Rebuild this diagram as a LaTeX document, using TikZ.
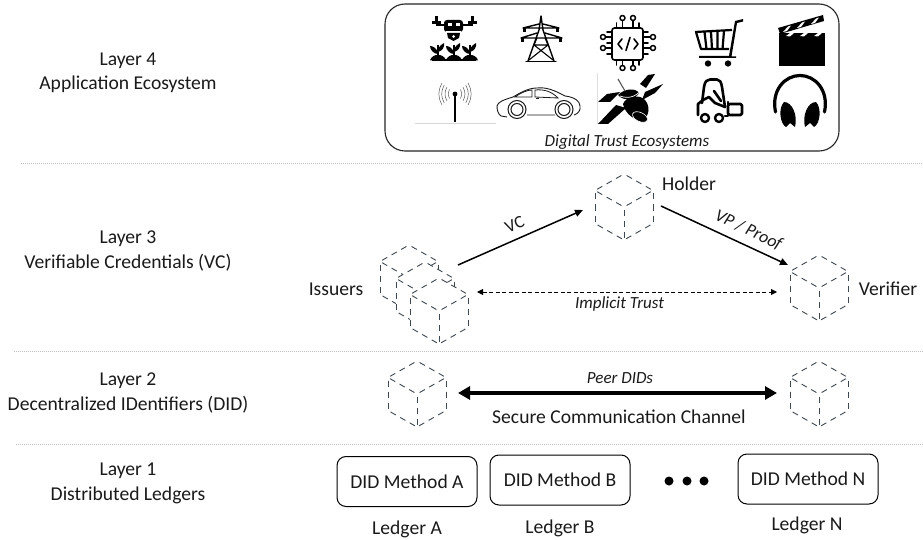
\documentclass[tikz,border=0pt]{standalone}
\usepackage{fontspec}
\setmainfont{Carlito}
\usetikzlibrary{arrows.meta,calc}
\definecolor{ink}{HTML}{1A1A1A}
\definecolor{cubeink}{HTML}{3F4750}
\definecolor{sepgray}{HTML}{BDBDBD}
\tikzset{
  x=1pt,y=-1pt,
  lbl/.style={font=\fontsize{19.6}{24.5}\selectfont,text=ink,inner sep=0pt,align=center},
  small/.style={font=\fontsize{17}{17}\selectfont\itshape,text=ink,inner sep=0pt},
  sep/.style={draw=sepgray,line width=0.8pt,dash pattern=on 1pt off 1pt},
  cubenode/.style={minimum width=58pt,minimum height=66pt,inner sep=0pt,draw=none},
  cubeedge/.style={draw=cubeink,line width=0.9pt,dash pattern=on 6pt off 5pt,dash phase=8pt},
  ledger/.style={draw=black,line width=1pt,rounded corners=9pt,minimum width=140pt,minimum height=50pt,inner sep=0pt,lbl},
  arrowthin/.style={draw=black,line width=1.5pt,-{Triangle[length=8pt,width=7pt]}},
  arrowdash/.style={draw=black,line width=0.9pt,dash pattern=on 4pt off 2.5pt,{Triangle[length=6pt,width=6pt]}-{Triangle[length=6pt,width=6pt]}},
  arrowthick/.style={draw=black,line width=3.5pt,{Triangle[length=12pt,width=13pt]}-{Triangle[length=12pt,width=13pt]}},
  ic/.style={fill=black,draw=none},
  ol/.style={draw=black,line width=1.1pt,fill=none,line join=round,line cap=round},
}
\newcommand{\cubeat}[3]{%
  \node[cubenode] (#1) at (#2,#3) {};
  \fill[white] ($(#1)+(0,-33)$)--($(#1)+(29,-16.5)$)--($(#1)+(29,16.5)$)--($(#1)+(0,33)$)--($(#1)+(-29,16.5)$)--($(#1)+(-29,-16.5)$)--cycle;
  \foreach \ax/\ay/\bx/\by in {0/-33/29/-16.5, 0/-33/-29/-16.5, 29/-16.5/29/16.5, -29/-16.5/-29/16.5, 29/16.5/0/33, -29/16.5/0/33, 0/0/29/-16.5, 0/0/-29/-16.5, 0/0/0/33}{
    \path[cubeedge,draw] ($(#1)+(\ax,\ay)$) -- ($(#1)+(\bx,\by)$);
  }
}
\begin{document}
\begin{tikzpicture}
\useasboundingbox (0,0) rectangle (923,540);
\fill[white] (0,0) rectangle (923,540);

% separators
\coordinate (s1a) at (21,163); \coordinate (s1b) at (923,163);
\coordinate (s2a) at (14,351); \coordinate (s2b) at (923,351);
\coordinate (s3a) at (16,444); \coordinate (s3b) at (923,444);
\draw[sep] (s1a)--(s1b); \draw[sep] (s2a)--(s2b); \draw[sep] (s3a)--(s3b);

% layer labels
\node[lbl] (l4) at (128,73) {Layer 4\\Application Ecosystem};
\node[lbl] (l3) at (128,251) {Layer 3\\Verifiable Credentials (VC)};
\node[lbl] (l2) at (128,393) {Layer 2\\Decentralized IDentifiers (DID)};
\node[lbl] (l1) at (128,483.5) {Layer 1\\Distributed Ledgers};

% ecosystem box
\node[draw=black!85,line width=1.1pt,rounded corners=20pt,minimum width=454pt,minimum height=147pt,inner sep=0pt] (eco) at (612,77.5) {};
\node[small] (ecot) at (627,142.5) {Digital Trust Ecosystems};

% --- drone
\begin{scope}
\fill[ic] (432,21.5) rectangle (441,24.5);
\fill[ic] (468,21.5) rectangle (477,24.5);
\fill[ic] (435,16) rectangle (438,23);
\fill[ic] (471,16) rectangle (474,23);
\fill[ic] (436,24) rectangle (473,26);
\fill[ic,rounded corners=3pt] (444,20) rectangle (463,32);
\fill[white] (448,23) rectangle (452,26); \fill[white] (455.5,23) rectangle (459.5,26);
\fill[white] (446,31) rectangle (461,32.5);
\fill[ic] (447,33) -- (460,33) -- (459,38) -- (453.5,41) -- (448,38) -- cycle;
\fill[white] (453.5,36.5) circle (1.5);
\foreach \px in {438,454,470}{
  \fill[ic] (\px-1,45) rectangle (\px+1,56);
  \fill[ic] (\px,52) .. controls (\px-2,48) and (\px-5,46) .. (\px-8,46) .. controls (\px-8,50) and (\px-4,54) .. (\px,54) -- cycle;
  \fill[ic] (\px,50) .. controls (\px+1,46) and (\px+4,44) .. (\px+6,43) .. controls (\px+7,47) and (\px+4,51) .. (\px,52) -- cycle;
  \fill[ic] (\px-8,60.5) .. controls (\px-6,53) and (\px+6,53) .. (\px+8,60.5) -- cycle;
}
\fill[ic] (432,59.5) rectangle (476,61.5);
\end{scope}

% --- pylon
\begin{scope}[ol]
\draw[ol,line width=1.4pt] (528,61) -- (539,30) -- (541,16) -- (543,30) -- (554,61);
\draw[ol,line width=1.4pt] (526,61.5) -- (556,61.5);
\draw[ol,line width=1.4pt] (523,28) -- (559,28) (521,38) -- (562,38) (539,24) -- (523,28) (543,24) -- (559,28) (537,33) -- (521,38) (545,33) -- (562,38);
\draw[ol,line width=1.1pt] (534,45) -- (548,45) (534,45) -- (553,60) (548,45) -- (529,60) (537,38) -- (534,45) (545,38) -- (548,45);
\fill[ic] (521,37) rectangle (524,42); \fill[ic] (559,37) rectangle (562,42);
\fill[ic] (523,28) rectangle (526,32); \fill[ic] (556,28) rectangle (559,32);
\end{scope}

% --- chip
\draw[ol,line width=1.6pt,rounded corners=2.5pt] (612,28) rectangle (643,60);
\draw[ol,line width=1.6pt] (622.5,28) -- (622.5,21) (633,28) -- (633,21) (622.5,60) -- (622.5,65) (633,60) -- (633,65)
  (612,37) -- (606,37) (612,48) -- (606,48) (643,37) -- (650,37) (643,48) -- (650,48)
  (616.5,28) -- (616.5,23) (639,28) -- (639,23) (616.5,60) -- (616.5,65) (639,60) -- (639,65)
  (612,32) -- (607,32) (612,54) -- (607,54) (643,32) -- (648,32) (643,54) -- (648,54) (612,43) -- (607,43) (643,43) -- (648,43);
\foreach \cx/\cy in {622.5/18,633/18,622.5/68,633/68,603/37,603/48,653/37,653/48}{
  \draw[ol,line width=1.5pt] (\cx,\cy) circle (2.5);
}
\draw[ol,line width=1.6pt] (622,39) -- (618,44) -- (622,49) (634,39) -- (638,44) -- (634,49) (630,37.5) -- (626,50.5);

% --- cart
\fill[ic] (743,19) -- (743,21.5) -- (737,23) -- (731.5,56.5) -- (736,56.5) -- (736,58) -- (699,58) -- (699,56) -- (729,56) -- (735,21) -- cycle;
\draw[ol,line width=2.2pt,line cap=butt] (695,32) -- (732,30) (696,32) -- (701,49) -- (729,49) (704.5,32) -- (706.5,49) (711,32) -- (712,49) (717.5,31) -- (717.5,49) (724,31) -- (722.5,49);
\fill[ic] (708,63.5) circle (3.2) (728,63.5) circle (3.2);

% --- clapper
\fill[ic] (779,33) rectangle (825,66);
\fill[ic] (778,28) -- (823,15) -- (824,21) -- (780,34) -- cycle;
\foreach \sx in {786,800,814}{
  \fill[white] (\sx,36) -- (\sx+4,33) -- (\sx+8,33) -- (\sx+4,36.5) -- cycle;
}
\foreach \sx/\sy in {783/32,797/28,811/24}{
  \fill[white] (\sx,\sy) -- (\sx+5,\sy-5.5) -- (\sx+8,\sy-6.5) -- (\sx+4,\sy-1) -- cycle;
}

% --- antenna
\draw[draw=gray!30,line width=0.7pt] (415,123) -- (496,123);
\draw[draw=black,line width=1.3pt] (455,94) -- (455,122);
\fill[ic] (455,94) circle (2.4);
\foreach \r in {7,10.5,14,17}{
  \draw[draw=gray!70!black,line width=0.5pt] ($(455,94)+(140:\r)$) .. controls ($(455,94)+(170:\r*1.03)$) and ($(455,94)+(190:\r*1.03)$) .. ($(455,94)+(220:\r)$);
  \draw[draw=gray!70!black,line width=0.5pt] ($(455,94)+(40:\r)$) .. controls ($(455,94)+(10:\r*1.03)$) and ($(455,94)+(-10:\r*1.03)$) .. ($(455,94)+(-40:\r)$);
}

% --- car
\draw[draw=ink,line width=0.9pt,line join=round]
  (507,117) -- (501,116) .. controls (498,114) and (497,110) .. (497,106)
  .. controls (498,102) and (503,100) .. (513,97)
  .. controls (520,93) and (528,88) .. (537,88)
  .. controls (546,87) and (554,90) .. (565,96)
  .. controls (574,97) and (580,101) .. (580,106)
  .. controls (581,110) and (578,114) .. (574,115)
  (555,115) -- (527,115);
\draw[draw=ink,line width=0.8pt] (515,97) .. controls (522,92) and (528,90) .. (532,90) -- (532,97) -- cycle;
\draw[draw=ink,line width=0.8pt] (535,90) .. controls (545,89) and (552,92) .. (558,98) -- (535,97) -- cycle;
\draw[draw=ink,line width=1pt,fill=white] (517,109.5) circle (9) (564,109.5) circle (9);
\draw[draw=ink,line width=1pt] (517,109.5) circle (6) (564,109.5) circle (6);
\draw[draw=ink,line width=1pt] (536,99) -- (539,99);

% --- satellite
\draw[draw=gray!25,line width=0.4pt] (597,73) -- (597,124);
\fill[ic] (598,102) -- (607,94) -- (620,92) -- (610,102) -- cycle;
\fill[ic] (598,124) -- (616,105) -- (626,108) -- (608,124) -- cycle;
\fill[ic] (640,84) -- (648,75) -- (655,74) -- (646,88) -- cycle;
\fill[ic] (645,92) -- (663,84) -- (655,93) -- (642,100) -- cycle;
\fill[ic] (623,104) .. controls (626,96) and (640,94) .. (645,100) .. controls (650,106) and (650,115) .. (643,120) .. controls (636,122) and (625,114) .. (623,104) -- cycle;
\fill[ic] (618,95) .. controls (625,88) and (636,88) .. (639,93) .. controls (635,100) and (624,102) .. (618,95) -- cycle;
\draw[draw=white,line width=0.7pt] (620,96) .. controls (628,99) and (636,97) .. (641,90);
\draw[draw=gray!70!black,line width=1.1pt] (618,79) -- (625,91);
\fill[ic,draw=white,line width=0.6pt,rotate around={-25:(640,117)}] (640,117) ellipse (8 and 4.5);

% --- forklift
\draw[ol,line width=2.6pt] (702,103) -- (704,87) .. controls (705,81) and (707,79.5) .. (710,79.5) -- (717,79.5) .. controls (720,79.5) and (721,82) .. (722,87) -- (725,107);
\draw[ol,line width=2.6pt] (725,116) -- (728,116) -- (728,102);
\draw[ol,line width=2.6pt] (698,115) -- (698,104) -- (703,100) -- (709,97) -- (715,103) -- (725,107);
\draw[ol,line width=2.6pt,rounded corners=1.5pt] (728,104) rectangle (742,115);
\draw[ol,line width=2.6pt] (714,91) -- (721,101);
\draw[ol,line width=2.4pt] (705,118) circle (4) (719,118) circle (4);

% --- headphones
\draw[draw=black,line width=3.2pt,line cap=round] (775.5,112) .. controls (771,90) and (785,75.5) .. (800,75.5) .. controls (815,75.5) and (829,90) .. (824.5,112);
\fill[ic] (784,102) .. controls (792,102) and (798,115) .. (795,127) -- (790,123) -- (786,127) .. controls (780,124) and (778,108) .. (784,102) -- cycle;
\fill[ic] (816,102) .. controls (808,102) and (802,115) .. (805,127) -- (810,123) -- (814,127) .. controls (820,124) and (822,108) .. (816,102) -- cycle;

% --- cubes
\cubeat{issA}{409}{278}
\cubeat{issB}{425}{295}
\cubeat{issC}{439}{311}
\cubeat{holder}{624}{207}
\cubeat{verifier}{819}{288}
\cubeat{peerL}{417}{394}
\cubeat{peerR}{819}{394}

\node[lbl] (tissuers) at (336,289) {Issuers};
\node[lbl] (tholder) at (689,184) {Holder};
\node[lbl] (tverifier) at (888,289) {Verifier};

% connectors
\draw[arrowthin] ($(issC)+(19,-46)$) -- ($(holder)+(-41,3)$) node[pos=0.5,sloped,above=8pt,inner sep=0pt,text=ink,font=\fontsize{17.5}{17.5}\selectfont] {VC};
\draw[arrowthin] ($(holder)+(37,-1)$) -- ($(verifier)+(-31,-23)$) node[pos=0.64,sloped,above=7pt,inner sep=0pt,text=ink,font=\fontsize{17.5}{17.5}\selectfont\itshape] {VP / Proof};
\draw[arrowdash] ($(issC)+(38,-19)$) -- ($(verifier)+(-42,4)$);
\node[small] (itrust) at (619.5,304) {Implicit Trust};
\draw[arrowthick] ($(peerL)+(41,-1)$) -- ($(peerR)+(-42,-1)$);
\node[small] (peer) at (620,378) {Peer DIDs};
\node[lbl] (secure) at (619,417) {Secure Communication Channel};

% ledgers
\node[ledger] (a) at (407,481.5) {DID Method A};
\node[ledger] (b) at (560,480) {DID Method B};
\node[ledger] (n) at (808,479) {DID Method N};
\node[lbl] (la) at (407,529) {Ledger A};
\node[lbl] (lb) at (560,528) {Ledger B};
\node[lbl] (ln) at (807,525) {Ledger N};
\fill[black] (669,481) circle (4.5) (687,481) circle (4.5) (704,481) circle (4.5);
\end{tikzpicture}
\end{document}
